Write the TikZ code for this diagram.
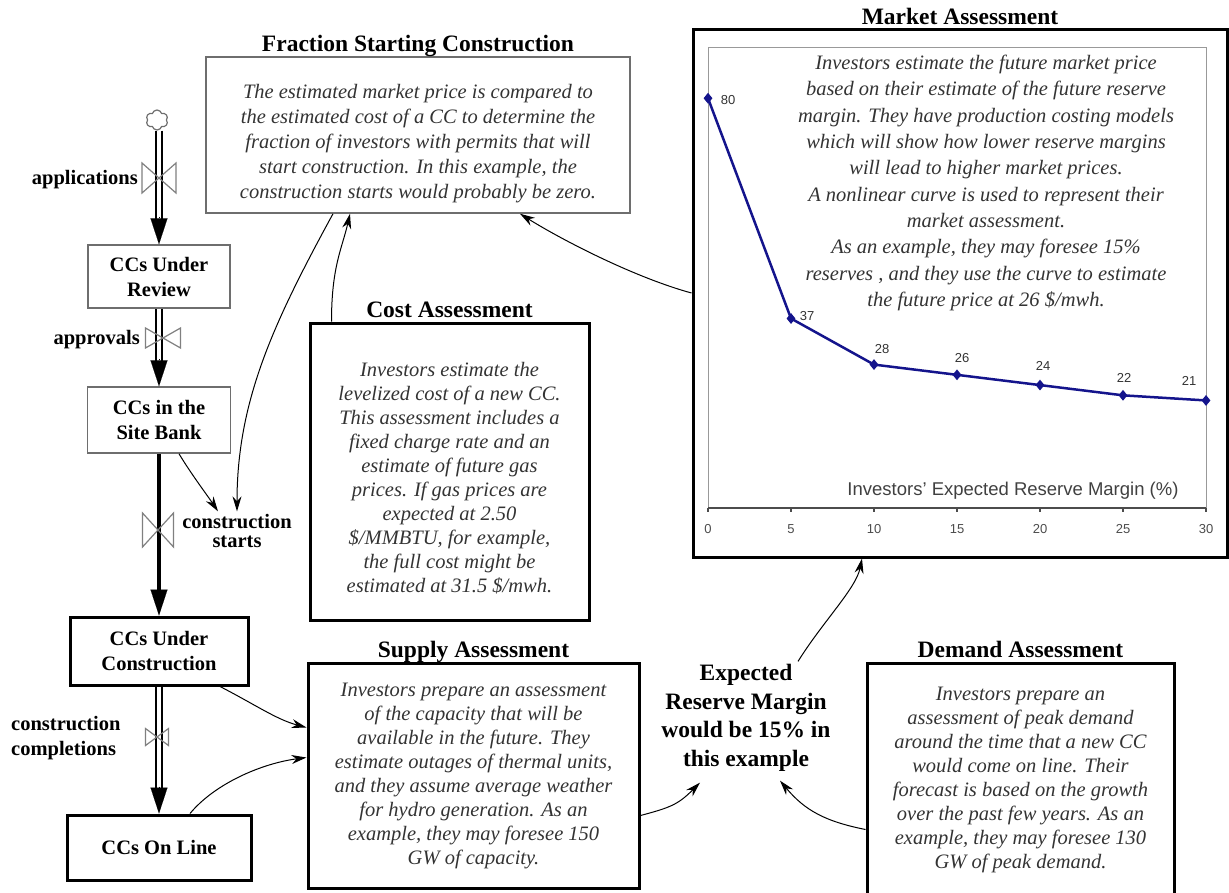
\documentclass[tikz,border=0pt]{standalone}
\usepackage{fontspec}
\setmainfont{Liberation Serif}
\setsansfont{Liberation Sans}
\usetikzlibrary{arrows.meta,shapes.symbols,shapes.geometric}
\definecolor{chartblue}{RGB}{20,20,140}
\definecolor{framegray}{RGB}{110,110,110}

\begin{document}
\begin{tikzpicture}[x=1pt, y=-1pt, >={Stealth[length=15pt,width=9pt]},
  stock/.style={draw=framegray, line width=1.5pt, font=\fontsize{20.5}{25}\selectfont\bfseries, align=center, inner sep=0pt},
  stockthick/.style={stock, draw=black, line width=3pt},
  note/.style={draw=black, line width=3pt, font=\fontsize{20.5}{24}\selectfont\itshape, align=center, inner sep=0pt, text=black!80},
  notethin/.style={note, draw=framegray, line width=1.5pt},
  notetext/.style={font=\fontsize{20.5}{24}\selectfont\itshape, align=center, inner sep=0pt, text=black!80},
  heading/.style={font=\fontsize{23.5}{28}\selectfont\bfseries, anchor=base},
  flowlabel/.style={font=\fontsize{20.5}{25}\selectfont\bfseries, align=center, inner sep=0pt},
  pipe/.style={draw=black, line width=1.4pt, double=white, double distance=4.5pt},
  pipetip/.style={line width=0.1pt, -{Triangle[length=26pt,width=17pt]}},
  valve/.style={draw=gray, line width=1.2pt},
  link/.style={draw, line width=1pt, ->},
  plotframe/.style={draw=black!40, line width=1pt},
  axisline/.style={draw=black!70, line width=1.3pt},
  curve/.style={draw=chartblue, line width=2.5pt, line join=round},
  pointmark/.style={diamond, fill=chartblue, inner sep=0pt, minimum width=9pt, minimum height=11pt},
  datalabel/.style={font=\fontsize{13}{15}\sffamily, text=black!80, inner sep=0pt},
  ticklabel/.style={font=\fontsize{13}{15}\sffamily, text=black!70, inner sep=0pt}]
  \useasboundingbox (0,0) rectangle (1229,892);

  % stocks and flows
  \node[cloud, cloud puffs=6, draw=framegray, line width=1.2pt, minimum width=22pt, minimum height=20pt, inner sep=0pt] (source) at (157,120) {};
  \node[stock, minimum width=142pt, minimum height=63pt] (review) at (159,276.5) {CCs Under\\Review};
  \node[stock, minimum width=143pt, minimum height=66pt] (sitebank) at (159,420) {CCs in the\\Site Bank};
  \node[stockthick, minimum width=178pt, minimum height=68pt] (underconst) at (159,651) {CCs Under\\Construction};
  \node[stockthick, minimum width=184pt, minimum height=65pt] (online) at (159,847.5) {CCs On Line};

  \draw[pipe] (source.south -| review.north) -- ([yshift=25pt]review.north);
  \draw[pipetip] ([yshift=27pt]review.north) -- (review.north);
  \draw[pipe] (review.south) -- ([yshift=25pt]sitebank.north);
  \draw[pipetip] ([yshift=27pt]sitebank.north) -- (sitebank.north);
  \draw[line width=4pt] (sitebank.south) -- ([yshift=25pt]underconst.north);
  \draw[pipetip] ([yshift=27pt]underconst.north) -- (underconst.north);
  \draw[pipe] (underconst.south) -- ([yshift=25pt]online.north);
  \draw[pipetip] ([yshift=27pt]online.north) -- (online.north);

  \foreach \vx/\vy/\vw/\vh in {159/178/34/30, 163/338/35/20, 158/530/31/34, 157/737/23/17}
    \draw[valve] (\vx-\vw/2,\vy-\vh/2) -- (\vx+\vw/2,\vy+\vh/2) -- (\vx+\vw/2,\vy-\vh/2) -- (\vx-\vw/2,\vy+\vh/2) -- cycle;

  \node[flowlabel, anchor=east] (lapp) at (138,180) {applications};
  \node[flowlabel, anchor=east] (lappr) at (140,340) {approvals};
  \node[flowlabel, font=\fontsize{20.5}{18.5}\selectfont\bfseries] (lstart) at (237,531) {construction\\starts};
  \node[flowlabel, align=left, anchor=west] (lcompl) at (11,738) {construction\\completions};

  % assessments
  \node[notethin, minimum width=424pt, minimum height=156pt] (fraction) at (418,135) {};
  \node[notetext, font=\fontsize{20.5}{25}\selectfont\itshape] (fractiontext) at ([yshift=-9pt]fraction.center)
    {The estimated market price is compared to\\the estimated cost of a CC to determine the\\fraction of investors with permits that will\\start construction.  In this example, the\\construction starts would probably be zero.};
  \node[heading] (fractitle) at ([yshift=4.5pt]fraction.north) {Fraction Starting Construction};

  \node[note, minimum width=279pt, minimum height=297pt] (cost) at (449.5,471.5) {};
  \node[notetext] (costtext) at ([yshift=-7pt]cost.center)
    {Investors estimate the\\levelized cost of a new CC.\\This assessment includes a\\fixed charge rate and an\\estimate of future gas\\prices. If gas prices are\\expected at 2.50\\\$/MMBTU, for example,\\the full cost might be\\estimated at 31.5 \$/mwh.};
  \node[heading] (costtitle) at ([yshift=4.5pt]cost.north) {Cost Assessment};

  \node[note, minimum width=331pt, minimum height=225pt] (supply) at (473.5,775.5)
    {Investors prepare an assessment\\of the capacity that will be\\available in the future. They\\estimate outages of thermal units,\\and they assume average weather\\for hydro generation. As an\\example, they may foresee 150\\GW of capacity.};
  \node[heading] (supplytitle) at ([yshift=4.5pt]supply.north) {Supply Assessment};

  \node[note, minimum width=307pt, minimum height=233pt] (demand) at (1020.5,779.5)
    {Investors prepare an\\assessment of peak demand\\around the time that a new CC\\would come on line.  Their\\forecast is based on the growth\\over the past few years. As an\\example, they may foresee 130\\GW of peak demand.};
  \node[heading] (demandtitle) at ([yshift=4.5pt]demand.north) {Demand Assessment};

  \node[font=\fontsize{23.5}{28.5}\selectfont\bfseries, align=center, inner sep=0pt] (expected) at (746,718)
    {Expected\\Reserve Margin\\would be 15\% in\\this example};

  % market assessment chart
  \node[draw, line width=3pt, minimum width=534pt, minimum height=528pt, inner sep=0pt] (market) at (960,293) {};
  \node[heading] (markettitle) at ([yshift=3.5pt]market.north) {Market Assessment};
  \begin{scope}[shift={(708,508)}, x=16.6pt, y=5.122pt]
    \draw[plotframe] (0,0) rectangle (30,90);
    \draw[axisline] (0,0) -- (30,0);
    \foreach \m in {0,5,...,30} {
      \draw[axisline] (\m,0) -- ++(0,-4pt);
      \node[ticklabel, yshift=-21pt] at (\m,0) {\m};
    }
    \draw[curve] (0,80) -- (5,37) -- (10,28) -- (15,26) -- (20,24) -- (25,22) -- (30,21);
    \foreach \m/\p/\dx/\dy in {0/80/20/-2, 5/37/16/2, 10/28/8/16, 15/26/5/17, 20/24/3/19, 25/22/1/17, 30/21/-17/19} {
      \node[pointmark] at (\m,\p) {};
      \node[datalabel, xshift=\dx pt, yshift=\dy pt] at (\m,\p) {\p};
    }
  \end{scope}
  \node[font=\fontsize{18.5}{22}\sffamily, text=black!75, inner sep=0pt] (axisname) at (1013,491) {Investors' Expected Reserve Margin (\%)};
  \node[font=\fontsize{20.5}{26.3}\selectfont\itshape, text=black!80, align=center, inner sep=0pt] (marketnote) at (986,183)
    {Investors estimate the future market price\\based on their estimate of the future reserve\\margin.  They have production costing models\\which will show how lower reserve margins\\will lead to higher  market prices.\\A nonlinear curve is used to represent their\\market assessment.\\As an example, they may foresee 15\%\\reserves , and they use the curve to estimate\\the future  price at 26 \$/mwh.};

  % information links
  \draw[link] ([xshift=20pt]sitebank.south) .. controls +(12,20) and +(-10,-15) .. ([xshift=-19pt,yshift=3pt]lstart.north);
  \draw[link] ([xshift=-85pt]fraction.south) .. controls +(-60,110) and +(0,-110) .. ([yshift=3pt]lstart.north);
  \draw[link] ([xshift=-118pt]cost.north) .. controls +(0,-55) and +(-8,35) .. ([xshift=-68pt]fraction.south);
  \draw[link] (market.west) .. controls +(-55,-15) and +(45,28) .. ([xshift=102pt]fraction.south);
  \draw[link] ([xshift=61pt]underconst.south) .. controls +(35,18) and +(-30,-8) .. ([yshift=48pt]supply.west);
  \draw[link] ([xshift=31pt]online.north) .. controls +(25,-30) and +(-45,6) .. ([yshift=18pt]supply.west);
  \draw[link] ([yshift=-40pt]supply.east) .. controls +(30,-8) and +(-22,22) .. ([xshift=-46pt,yshift=-11pt]expected.south);
  \draw[link] ([yshift=-50pt]demand.west) .. controls +(-40,-8) and +(25,30) .. ([xshift=34pt,yshift=-9pt]expected.south);
  \draw[link] ([xshift=52pt,yshift=3pt]expected.north) .. controls +(25,-40) and +(-6,30) .. ([xshift=-98pt]market.south);
\end{tikzpicture}
\end{document}
